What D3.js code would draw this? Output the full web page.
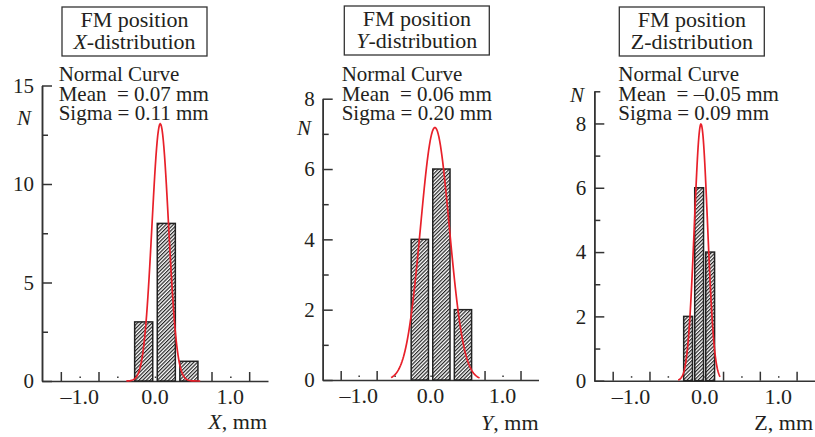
<!DOCTYPE html>
<html>
<head>
<meta charset="utf-8">
<title>FM position distribution</title>
<script src="https://cdnjs.cloudflare.com/ajax/libs/d3/7.8.5/d3.min.js"></script>
<style>
body{margin:0;background:#fff;}
text{font-family:"Liberation Serif","Times New Roman",serif;fill:#231f20;}
.axis path,.axis line{stroke:#333;stroke-width:1.5;}
</style>
</head>
<body>
<div id="svg_container"></div>
<script>
var w=815,h=437;

// values
var axesNames=['X','Y','Z'];
var means=[0.07,0.06,-0.05];
var sigmas=[0.11,0.20,0.09];
var binCentersX=[-0.15,0.15,0.45];
var countsX=[3,8,1];
var binCentersY=[-0.15,0.15,0.45];
var countsY=[4,6,2];
var binCentersZ=[-0.225,-0.075,0.075];
var countsZ=[2,6,4];
var binWidths=[0.3,0.3,0.15];
var curveRanges=[[-0.38,0.60],[-0.55,0.68],[-0.36,0.21]];
var yMax=[15,8,9];
var yMajorTicks=[[0,5,10,15],[0,2,4,6,8],[0,2,4,6,8]];
var yMinorTicks=[[2.5,7.5,12.5],[1,3,5,7],[1,3,5,7,9]];
var xLabelTicks=[-1,0,1];
var xTallTicks=[-1.25,-0.75,-0.25,0.25,0.75,1.25];
var xDotTicks=[-1,-0.5,0,0.5,1];

var binCenters=[binCentersX,binCentersY,binCentersZ];
var counts=[countsX,countsY,countsZ];

// layout of each panel (pixels)
var panels=[
  {x0:42,x1:268,yb:381,box:[62,7,145,49],note:58.7,nPos:[24,125],axisLabel:[267,429],italic:true,
   top:85.5},
  {x0:322.7,x1:538.5,yb:380,box:[344.3,6,145,49],note:341.7,nPos:[304,135],axisLabel:[538.5,430],italic:true,
   top:98.7},
  {x0:594.3,x1:815,yb:380.7,box:[619.3,7,145,49],note:618.3,nPos:[577,102],axisLabel:[813,430],italic:false,
   top:91.3}
];

var svg=d3.select('#svg_container')
          .append('svg')
          .attr('width',w)
          .attr('height',h);

var defs=svg.append('defs');
var pat=defs.append('pattern')
    .attr('id','hatch')
    .attr('patternUnits','userSpaceOnUse')
    .attr('width',2.6)
    .attr('height',2.6)
    .attr('patternTransform','rotate(45)');
pat.append('rect').attr('width',2.6).attr('height',2.6).attr('fill','#fff');
pat.append('line')
   .attr('x1',0.6).attr('x2',0.6).attr('y1',0).attr('y2',2.6)
   .attr('stroke','#222').attr('stroke-width',1.2);

function fmt(d){
  return (d<0?'\u2013':'')+Math.abs(d).toFixed(1);
}

panels.forEach(function(p,i){
  var g=svg.append('g');
  var x=d3.scaleLinear().domain([-1.5,1.5]).range([p.x0,p.x1]);
  var y=d3.scaleLinear().domain([0,yMax[i]]).range([p.yb,p.top]);

  // x axis: tall ticks pointing up, small dots, labels below
  g.append('g').attr('class','axis')
   .attr('transform','translate(0,'+p.yb+')')
   .call(d3.axisTop(x).tickValues(xTallTicks).tickSize(9).tickSizeOuter(0).tickFormat(''));
  g.append('g').attr('class','axis dots')
   .attr('transform','translate(0,'+(p.yb-3)+')')
   .call(d3.axisTop(x).tickValues(xDotTicks).tickSize(1.5).tickSizeOuter(0).tickFormat(''))
   .select('.domain').remove();

  g.selectAll('.xlab')
   .data(xLabelTicks)
   .enter()
   .append('text')
   .attr('x',function(d){return x(d);})
   .attr('y',p.yb+23)
   .attr('text-anchor','middle')
   .attr('font-size','22px')
   .text(fmt);

  var al=g.append('text')
   .attr('x',p.axisLabel[0])
   .attr('y',p.axisLabel[1])
   .attr('text-anchor','end')
   .attr('font-size','22px');
  al.append('tspan').attr('font-style',p.italic?'italic':'normal').text(axesNames[i]);
  al.append('tspan').text(', mm');

  // y axis: ticks pointing inward
  g.append('g').attr('class','axis')
   .attr('transform','translate('+p.x0+',0)')
   .call(d3.axisRight(y).tickValues(yMajorTicks[i]).tickSize(10).tickSizeOuter(0).tickFormat(''));
  g.append('g').attr('class','axis')
   .attr('transform','translate('+p.x0+',0)')
   .call(d3.axisRight(y).tickValues(yMinorTicks[i]).tickSize(6).tickSizeOuter(0).tickFormat(''));

  g.selectAll('.ylab')
   .data(yMajorTicks[i])
   .enter()
   .append('text')
   .attr('x',p.x0-8)
   .attr('y',function(d){return y(d);})
   .attr('dy','0.35em')
   .attr('text-anchor','end')
   .attr('font-size','21px')
   .text(function(d){return d;});

  g.append('text')
   .attr('x',p.nPos[0])
   .attr('y',p.nPos[1])
   .attr('text-anchor','middle')
   .attr('font-style','italic')
   .attr('font-size','21px')
   .text('N');

  // bars
  var bw=binWidths[i]*0.8;
  g.selectAll('.bar')
   .data(binCenters[i])
   .enter()
   .append('rect')
   .attr('x',function(d){return x(d-bw/2);})
   .attr('y',function(d,j){return y(counts[i][j]);})
   .attr('width',x(bw)-x(0))
   .attr('height',function(d,j){return p.yb-y(counts[i][j]);})
   .attr('fill','url(#hatch)')
   .attr('stroke','#222')
   .attr('stroke-width',1.5);

  // normal curve scaled to the histogram
  var total=d3.sum(counts[i]);
  var amp=total*binWidths[i]/(sigmas[i]*Math.sqrt(2*Math.PI));
  var xs=d3.range(0,121).map(function(k){
    return curveRanges[i][0]+(curveRanges[i][1]-curveRanges[i][0])*k/120;
  });
  var line=d3.line()
    .x(function(d){return x(d);})
    .y(function(d){
      var z=(d-means[i])/sigmas[i];
      return y(amp*Math.exp(-0.5*z*z));
    });
  g.append('path')
   .datum(xs)
   .attr('d',line)
   .attr('fill','none')
   .attr('stroke','#e8202a')
   .attr('stroke-width',1.7);

  // title box
  g.append('rect')
   .attr('x',p.box[0]).attr('y',p.box[1])
   .attr('width',p.box[2]).attr('height',p.box[3])
   .attr('fill','#fff')
   .attr('stroke','#333')
   .attr('stroke-width',1.3);
  var cx=p.box[0]+p.box[2]/2;
  g.append('text')
   .attr('x',cx).attr('y',p.box[1]+20)
   .attr('text-anchor','middle')
   .attr('font-size','22px')
   .text('FM position');
  var t2=g.append('text')
   .attr('x',cx).attr('y',p.box[1]+41.5)
   .attr('text-anchor','middle')
   .attr('font-size','22px');
  t2.append('tspan').attr('font-style',p.italic?'italic':'normal').text(axesNames[i]);
  t2.append('tspan').text('-distribution');

  // fit annotation
  var meanTxt=(means[i]<0?'\u2013':'')+Math.abs(means[i]).toFixed(2);
  var notes=['Normal Curve','Mean\u00a0\u00a0= '+meanTxt+' mm','Sigma = '+sigmas[i].toFixed(2)+' mm'];
  g.selectAll('.note')
   .data(notes)
   .enter()
   .append('text')
   .attr('x',p.note)
   .attr('y',function(d,j){return 81+j*19.7;})
   .attr('font-size','21px')
   .text(function(d){return d;});
});
</script>
</body>
</html>
